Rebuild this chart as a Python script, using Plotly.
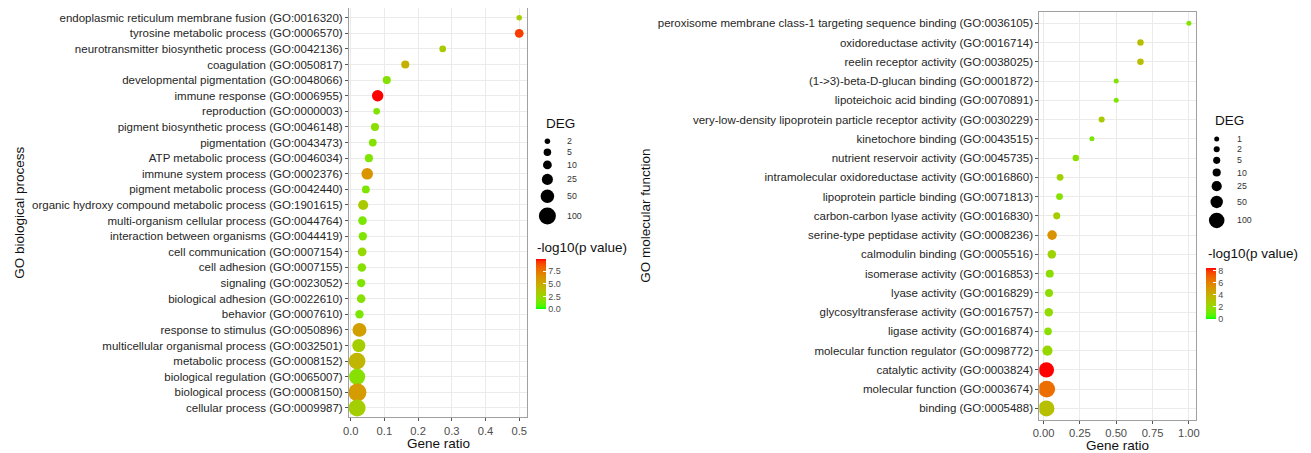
import numpy as np
import plotly.graph_objects as go

# ---------------- data ----------------
bp_terms = [
    "endoplasmic reticulum membrane fusion (GO:0016320)",
    "tyrosine metabolic process (GO:0006570)",
    "neurotransmitter biosynthetic process (GO:0042136)",
    "coagulation (GO:0050817)",
    "developmental pigmentation (GO:0048066)",
    "immune response (GO:0006955)",
    "reproduction (GO:0000003)",
    "pigment biosynthetic process (GO:0046148)",
    "pigmentation (GO:0043473)",
    "ATP metabolic process (GO:0046034)",
    "immune system process (GO:0002376)",
    "pigment metabolic process (GO:0042440)",
    "organic hydroxy compound metabolic process (GO:1901615)",
    "multi-organism cellular process (GO:0044764)",
    "interaction between organisms (GO:0044419)",
    "cell communication (GO:0007154)",
    "cell adhesion (GO:0007155)",
    "signaling (GO:0023052)",
    "biological adhesion (GO:0022610)",
    "behavior (GO:0007610)",
    "response to stimulus (GO:0050896)",
    "multicellular organismal process (GO:0032501)",
    "metabolic process (GO:0008152)",
    "biological regulation (GO:0065007)",
    "biological process (GO:0008150)",
    "cellular process (GO:0009987)",
]
bp_ratio = [0.5, 0.5, 0.273, 0.162, 0.107, 0.080, 0.077, 0.072, 0.0655, 0.054,
            0.049, 0.045, 0.037, 0.035, 0.036, 0.034, 0.033, 0.031, 0.031, 0.026,
            0.026, 0.024, 0.019, 0.019, 0.020, 0.019]
bp_deg = [2, 10, 3, 7, 7, 28, 3, 7, 6, 7,
          30, 6, 18, 9, 8, 10, 9, 8, 9, 8,
          55, 45, 95, 85, 117, 100]
bp_logp = [3.0, 9.2, 3.3, 4.7, 1.8, 9.9, 1.7, 2.0, 1.8, 1.6,
           6.1, 1.6, 3.3, 1.5, 1.6, 2.4, 1.9, 1.6, 1.9, 1.5,
           5.6, 3.0, 4.4, 1.9, 5.7, 3.0]

mf_terms = [
    "peroxisome membrane class-1 targeting sequence binding (GO:0036105)",
    "oxidoreductase activity (GO:0016714)",
    "reelin receptor activity (GO:0038025)",
    "(1->3)-beta-D-glucan binding (GO:0001872)",
    "lipoteichoic acid binding (GO:0070891)",
    "very-low-density lipoprotein particle receptor activity (GO:0030229)",
    "kinetochore binding (GO:0043515)",
    "nutrient reservoir activity (GO:0045735)",
    "intramolecular oxidoreductase activity (GO:0016860)",
    "lipoprotein particle binding (GO:0071813)",
    "carbon-carbon lyase activity (GO:0016830)",
    "serine-type peptidase activity (GO:0008236)",
    "calmodulin binding (GO:0005516)",
    "isomerase activity (GO:0016853)",
    "lyase activity (GO:0016829)",
    "glycosyltransferase activity (GO:0016757)",
    "ligase activity (GO:0016874)",
    "molecular function regulator (GO:0098772)",
    "catalytic activity (GO:0003824)",
    "molecular function (GO:0003674)",
    "binding (GO:0005488)",
]
mf_ratio = [1.0, 0.667, 0.667, 0.5, 0.5, 0.4, 0.333, 0.222, 0.114, 0.110,
            0.091, 0.059, 0.057, 0.043, 0.038, 0.036, 0.031, 0.027, 0.020, 0.022, 0.020]
mf_deg = [1, 3, 3, 1, 1, 2, 1, 3, 4, 4,
          5, 20, 12, 9, 9, 12, 7, 25, 95, 125, 110]
mf_logp = [1.5, 3.4, 3.4, 1.4, 1.4, 2.8, 1.3, 1.7, 2.4, 1.6,
           2.6, 5.3, 2.3, 1.8, 1.8, 1.9, 1.7, 2.1, 8.5, 6.7, 3.3]

bp_size_breaks = [2, 5, 10, 25, 50, 100]
mf_size_breaks = [1, 2, 5, 10, 25, 50, 100]
bp_color_limits = [0, 9.9]
mf_color_limits = [0, 8.5]
bp_color_ticks = [0, 2.5, 5, 7.5]
bp_color_labels = ["0.0", "2.5", "5.0", "7.5"]
mf_color_ticks = [0, 2, 4, 6, 8]
mf_color_labels = ["0", "2", "4", "6", "8"]
bp_x_ticks = [0, 0.1, 0.2, 0.3, 0.4, 0.5]
bp_x_labels = ["0.0", "0.1", "0.2", "0.3", "0.4", "0.5"]
mf_x_ticks = [0, 0.25, 0.5, 0.75, 1.0]
mf_x_labels = ["0.00", "0.25", "0.50", "0.75", "1.00"]

# ---------------- helpers ----------------
OFF = 8                      # page body margin of the html page
W, H = 1311 - OFF, 453 - OFF  # figure size so that it fills the window
FONT = "Liberation Sans, Arial, sans-serif"

M = np.array([[0.4124564, 0.3575761, 0.1804375],
              [0.2126729, 0.7151522, 0.0721750],
              [0.0193339, 0.1191920, 0.9503041]])
WP = np.array([0.95047, 1.0, 1.08883])


def hex_to_lab(h):
    rgb = np.array([int(h[i:i + 2], 16) for i in (1, 3, 5)]) / 255.0
    lin = np.where(rgb <= 0.04045, rgb / 12.92, ((rgb + 0.055) / 1.055) ** 2.4)
    t = (M @ lin) / WP
    f = np.where(t > (6 / 29) ** 3, np.cbrt(t), t / (3 * (6 / 29) ** 2) + 4 / 29)
    return np.array([116 * f[1] - 16, 500 * (f[0] - f[1]), 200 * (f[1] - f[2])])


def lab_to_hex(lab):
    L, a, b = lab
    fy = (L + 16) / 116
    f = np.array([fy + a / 500, fy, fy - b / 200])
    t = np.where(f > 6 / 29, f ** 3, 3 * (6 / 29) ** 2 * (f - 4 / 29))
    lin = np.clip(np.linalg.inv(M) @ (t * WP), 0, 1)
    rgb = np.where(lin <= 0.0031308, 12.92 * lin, 1.055 * lin ** (1 / 2.4) - 0.055)
    return "#%02x%02x%02x" % tuple(int(round(c * 255)) for c in rgb)


lo, hi = hex_to_lab("#00FF00"), hex_to_lab("#FF0000")
colorscale = [[float(s), lab_to_hex(lo * (1 - s) + hi * s)] for s in np.linspace(0, 1, 21)]


def size_scale(v, vmin, dmin, vref, dref):
    v = np.asarray(v, dtype=float)
    return dmin + (dref - dmin) * np.sqrt((v - vmin) / (vref - vmin))


def expand(vals, frac=0.05):
    lo_, hi_ = min(vals), max(vals)
    d = hi_ - lo_
    return [lo_ - frac * d, hi_ + frac * d]


def px_x(p):
    return (p - OFF) / W


def px_y(p):
    return 1 - (p - OFF) / H


bp_size = lambda v: size_scale(v, 2, 5.5, 100, 17.0)
mf_size = lambda v: size_scale(v, 1, 5.0, 100, 15.5)

fig = go.Figure()

# ---------------- panel traces ----------------
fig.add_trace(go.Scatter(
    x=bp_ratio, y=bp_terms, mode="markers", xaxis="x", yaxis="y", showlegend=False,
    marker=dict(size=bp_size(bp_deg), color=bp_logp, colorscale=colorscale,
                cmin=bp_color_limits[0], cmax=bp_color_limits[1], opacity=1,
                line=dict(width=0),
                colorbar=dict(x=px_x(536), xanchor="left", y=px_y(259), yanchor="top",
                              len=50, lenmode="pixels", thickness=10, thicknessmode="pixels",
                              xpad=0, ypad=0, outlinewidth=0,
                              tickvals=bp_color_ticks, ticktext=bp_color_labels,
                              ticks="inside", ticklen=3, tickcolor="white",
                              tickfont=dict(family=FONT, size=9, color="#4D4D4D")))))

fig.add_trace(go.Scatter(
    x=mf_ratio, y=mf_terms, mode="markers", xaxis="x2", yaxis="y2", showlegend=False,
    marker=dict(size=mf_size(mf_deg), color=mf_logp, colorscale=colorscale,
                cmin=mf_color_limits[0], cmax=mf_color_limits[1], opacity=1,
                line=dict(width=0),
                colorbar=dict(x=px_x(1206), xanchor="left", y=px_y(267.7), yanchor="top",
                              len=50.6, lenmode="pixels", thickness=10, thicknessmode="pixels",
                              xpad=0, ypad=0, outlinewidth=0,
                              tickvals=mf_color_ticks, ticktext=mf_color_labels,
                              ticks="inside", ticklen=3, tickcolor="white",
                              tickfont=dict(family=FONT, size=9, color="#4D4D4D")))))

# ---------------- size legends (drawn on pixel-unit helper axes) ----------------
def key_centers(diams, first):
    h = np.maximum(10, np.asarray(diams) + 4.5)
    c = [first]
    for i in range(1, len(h)):
        c.append(c[-1] + (h[i - 1] + h[i]) / 2)
    return c


bp_key_d = bp_size(bp_size_breaks)
mf_key_d = mf_size(mf_size_breaks)
bp_key_y = key_centers(bp_key_d, 141.3)
mf_key_y = key_centers(mf_key_d, 139.0)

fig.add_trace(go.Scatter(
    x=[547.4] * len(bp_size_breaks), y=bp_key_y, mode="markers", xaxis="x3", yaxis="y3",
    showlegend=False, hoverinfo="skip",
    marker=dict(size=bp_key_d, color="#000000", opacity=1, line=dict(width=0))))
fig.add_trace(go.Scatter(
    x=[1216.7] * len(mf_size_breaks), y=mf_key_y, mode="markers", xaxis="x4", yaxis="y4",
    showlegend=False, hoverinfo="skip",
    marker=dict(size=mf_key_d, color="#000000", opacity=1, line=dict(width=0))))

annotations = []
for v, yy in zip(bp_size_breaks, bp_key_y):
    annotations.append(dict(text=str(v), x=565, y=yy, xref="x3", yref="y3", xanchor="left",
                            yanchor="middle", showarrow=False,
                            font=dict(family=FONT, size=8.8, color="#333333")))
for v, yy in zip(mf_size_breaks, mf_key_y):
    annotations.append(dict(text=str(v), x=1235, y=yy, xref="x4", yref="y4", xanchor="left",
                            yanchor="middle", showarrow=False,
                            font=dict(family=FONT, size=8.8, color="#333333")))

# ---------------- titles ----------------
def ann(text, x, y, size=13.5, angle=0, xanchor="center"):
    annotations.append(dict(text=text, x=px_x(x), y=px_y(y), xref="paper", yref="paper",
                            xanchor=xanchor, yanchor="middle", showarrow=False,
                            textangle=angle, font=dict(family=FONT, size=size, color="#111111")))


ann("Gene ratio", 438, 443)
ann("Gene ratio", 1117.6, 445)
ann("GO biological process", 20, 212.7, angle=-90)
ann("GO molecular function", 646, 215.8, angle=-90)
ann("DEG", 543.7, 123.3, xanchor="left")
ann("DEG", 1212.7, 120, xanchor="left")
ann("-log10(p value)", 534.7, 247, xanchor="left")
ann("-log10(p value)", 1205.7, 253.3, xanchor="left")

# ---------------- axes ----------------
grid = "#EBEBEB"
border = "#A0A0A0"


def xaxis(domain, rng, tv, tt, anchor):
    return dict(domain=domain, range=rng, anchor=anchor, tickvals=tv, ticktext=tt,
                showgrid=True, gridcolor=grid, gridwidth=1, zeroline=False,
                showline=True, linecolor=border, linewidth=1, mirror=True,
                ticks="outside", ticklen=3, tickcolor="#555555",
                tickfont=dict(family=FONT, size=11.2, color="#4D4D4D"),
                automargin=False, fixedrange=True)


def yaxis(domain, terms, anchor):
    n = len(terms)
    return dict(domain=domain, type="category", categoryorder="array", categoryarray=terms,
                range=[n - 0.4, -0.6], anchor=anchor,
                showgrid=True, gridcolor=grid, gridwidth=1, zeroline=False,
                showline=True, linecolor=border, linewidth=1, mirror=True,
                ticks="outside", ticklen=3, tickcolor="#555555",
                tickfont=dict(family=FONT, size=11.5, color="#262626"),
                automargin=False, fixedrange=True)


fig.update_layout(
    width=W, height=H, autosize=False, template="none",
    margin=dict(l=0, r=0, t=0, b=0, pad=0),
    paper_bgcolor="white", plot_bgcolor="rgba(0,0,0,0)",
    font=dict(family=FONT),
    showlegend=False,
    xaxis=xaxis([px_x(349), px_x(527.3)], expand(bp_ratio), bp_x_ticks, bp_x_labels, "y"),
    yaxis=yaxis([px_y(417.3), px_y(8.3)], bp_terms, "x"),
    xaxis2=xaxis([px_x(1039.3), px_x(1196)], expand(mf_ratio), mf_x_ticks, mf_x_labels, "y2"),
    yaxis2=yaxis([px_y(420), px_y(11.7)], mf_terms, "x2"),
    xaxis3=dict(domain=[px_x(532), px_x(610)], range=[532, 610], visible=False,
                anchor="y3", fixedrange=True),
    yaxis3=dict(domain=[px_y(235), px_y(105)], range=[235, 105], visible=False,
                anchor="x3", fixedrange=True),
    xaxis4=dict(domain=[px_x(1201), px_x(1300)], range=[1201, 1300], visible=False,
                anchor="y4", fixedrange=True),
    yaxis4=dict(domain=[px_y(240), px_y(105)], range=[240, 105], visible=False,
                anchor="x4", fixedrange=True),
    annotations=annotations,
)

fig.write_html("out.html")
